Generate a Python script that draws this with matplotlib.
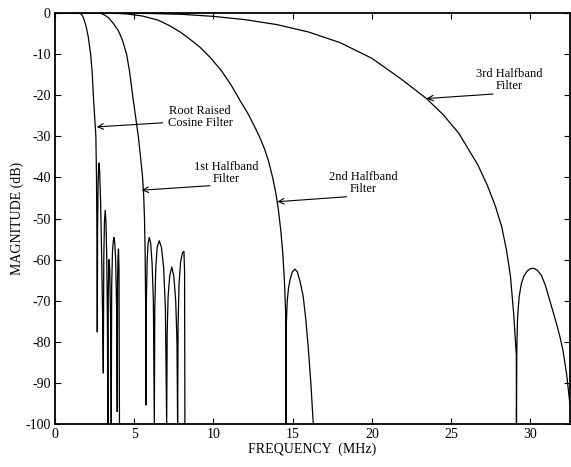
import matplotlib
matplotlib.use("Agg")
import matplotlib.pyplot as plt

plt.rcParams["font.family"] = ["Liberation Serif", "DejaVu Serif"]
plt.rcParams["axes.unicode_minus"] = False

# Root raised cosine filter response (MHz, dB)
rrc_freq = [0.0, 1.5, 1.68, 1.8, 1.95, 2.1, 2.25, 2.35, 2.42, 2.5, 2.58, 2.62, 2.65, 2.67,
            2.69, 2.72, 2.75, 2.78, 2.82, 2.88, 2.95, 3.00, 3.05,
            3.08, 3.12, 3.17, 3.22, 3.27, 3.31, 3.34,
            3.36, 3.39, 3.42, 3.46, 3.51, 3.55,
            3.58, 3.63, 3.68, 3.72, 3.77, 3.83, 3.89, 3.93,
            3.95, 3.98, 4.01, 4.04, 4.07]
rrc_mag = [0.0, 0.0, -0.3, -1.2, -3.0, -5.8, -10.0, -14.5, -20.0, -25.0, -30.0, -40.0, -55.0, -77.6,
           -52.0, -42.0, -38.0, -36.5, -38.5, -46.0, -60.0, -72.0, -87.6,
           -60.0, -51.0, -48.0, -51.0, -60.0, -75.0, -100.0,
           -70.0, -62.0, -60.0, -63.0, -75.0, -100.0,
           -66.0, -58.0, -55.5, -54.6, -55.8, -60.0, -72.0, -97.0,
           -66.0, -59.0, -57.4, -62.0, -100.0]

# 1st halfband filter response
hb1_freq = [0.0, 2.84, 3.1, 3.4, 3.7, 4.0, 4.25, 4.52, 4.72, 4.9, 5.08, 5.26, 5.4, 5.53,
            5.6, 5.65, 5.69, 5.72, 5.74,
            5.77, 5.82, 5.88, 5.95, 6.04, 6.13, 6.21, 6.27,
            6.30, 6.36, 6.45, 6.58, 6.72, 6.86, 6.97, 7.05,
            7.08, 7.14, 7.24, 7.37, 7.50, 7.62, 7.70, 7.74,
            7.77, 7.83, 7.93, 8.05, 8.14, 8.18, 8.20]
hb1_mag = [0.0, 0.0, -0.4, -1.2, -2.6, -4.3, -6.5, -10.0, -14.5, -20.0, -25.0, -30.0, -35.0, -40.0,
           -44.5, -50.0, -58.0, -70.0, -95.4,
           -70.0, -60.0, -56.0, -54.6, -56.0, -61.0, -70.0, -100.0,
           -72.0, -62.0, -57.0, -55.4, -57.0, -62.0, -72.0, -100.0,
           -78.0, -69.0, -64.0, -61.8, -64.0, -70.0, -80.0, -100.0,
           -76.0, -66.0, -60.5, -58.3, -58.0, -63.0, -100.0]

# 2nd halfband filter response
hb2_freq = [0.0, 3.5, 4.5, 5.5, 6.5, 7.2, 7.9, 8.5, 9.15, 9.8, 10.5, 11.1, 11.67,
            12.2, 12.7, 13.0, 13.25, 13.5, 13.75, 13.95, 14.1, 14.25, 14.38, 14.48, 14.55,
            14.57, 14.58,
            14.60, 14.66, 14.74, 14.83, 14.98, 15.14, 15.3, 15.48, 15.67, 15.83, 15.98,
            16.15, 16.3]
hb2_mag = [0.0, 0.0, -0.2, -0.7, -1.7, -3.0, -4.6, -6.3, -8.3, -10.8, -14.0, -17.4, -21.2,
           -24.6, -28.4, -30.9, -33.3, -36.3, -40.2, -44.0, -47.8, -52.8, -58.5, -65.0, -72.0,
           -77.0, -100.0,
           -76.0, -70.0, -67.0, -65.0, -63.0, -62.3, -63.0, -65.5, -69.0, -74.5, -81.0,
           -90.0, -99.7]

# 3rd halfband filter response
hb3_freq = [0.0, 4.0, 6.0, 8.0, 10.0, 12.0, 14.0, 16.0, 18.0, 20.0, 21.8, 23.45, 24.5,
            25.5, 26.06, 26.7, 27.3, 27.8, 28.2, 28.5, 28.75, 28.95, 29.05, 29.12, 29.13,
            29.15, 29.2, 29.3, 29.44, 29.6, 29.8, 30.0, 30.22, 30.45, 30.7, 30.95, 31.2,
            31.45, 31.7, 31.9, 32.07, 32.3, 32.5]
hb3_mag = [0.0, 0.0, -0.1, -0.3, -0.8, -1.6, -2.8, -4.6, -7.2, -11.0, -15.9, -20.8, -24.7,
           -29.3, -32.9, -37.0, -42.0, -47.0, -52.0, -57.7, -64.0, -73.0, -79.0, -83.2, -100.0,
           -82.0, -74.0, -69.0, -65.8, -64.0, -62.8, -62.2, -62.1, -62.6, -63.8, -66.2, -69.5,
           -72.8, -76.2, -79.2, -82.2, -88.0, -95.0]

x_ticks = [0, 5, 10, 15, 20, 25, 30]
y_ticks = [0, -10, -20, -30, -40, -50, -60, -70, -80, -90, -100]

fig = plt.figure(figsize=(5.71, 4.67), dpi=100)
ax = fig.add_axes([0.0963, 0.092, 0.9017, 0.880])

for f, m in [(rrc_freq, rrc_mag), (hb1_freq, hb1_mag),
             (hb2_freq, hb2_mag), (hb3_freq, hb3_mag)]:
    ax.plot(f, m, color="black", linewidth=0.9)

ax.set_xlim(0, 32.5)
ax.set_ylim(-100, 0)
ax.set_xticks(x_ticks)
ax.set_yticks(y_ticks)
ax.tick_params(direction="in", top=True, right=True, length=4, width=0.8,
               labelsize=10, pad=3)
for s in ax.spines.values():
    s.set_linewidth(1.3)

ax.set_xlabel("FREQUENCY  (MHz)", fontsize=10, labelpad=1)
ax.set_ylabel("MAGNITUDE (dB)", fontsize=10, labelpad=1)

arrow = dict(arrowstyle="->", color="black", linewidth=0.8,
             shrinkA=0, shrinkB=0)
labels = [
    ("Root Raised\nCosine Filter", (9.15, -25.3), (6.8, -26.7), (2.63, -27.7)),
    ("1st Halfband\nFilter", (10.8, -38.9), (9.78, -42.0), (5.47, -43.1)),
    ("2nd Halfband\nFilter", (19.45, -41.4), (18.4, -44.7), (14.03, -45.9)),
    ("3rd Halfband\nFilter", (28.7, -16.3), (27.65, -19.7), (23.45, -20.8)),
]
for text, pos, tail, tip in labels:
    ax.text(pos[0], pos[1], text, fontsize=9, ha="center", va="center",
            linespacing=1.0)
    ax.annotate("", xy=tip, xytext=tail, arrowprops=arrow)

fig.savefig("out.png", dpi=100)
